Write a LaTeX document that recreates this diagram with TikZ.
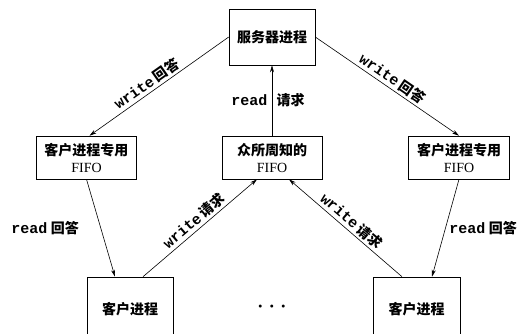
\documentclass[tikz,border=0pt]{standalone}
\usepackage{fontspec}
\setmainfont{Liberation Serif}
\setmonofont{Liberation Mono}
\newfontfamily\cjk{Noto Sans CJK SC}
\usetikzlibrary{arrows.meta}
\newcommand{\zh}[1]{{\cjk\bfseries #1}}
\newcommand{\fn}[1]{{\fontsize{15}{17}\selectfont\ttfamily\bfseries #1}}

\begin{document}
\begin{tikzpicture}[x=1pt, y=-1pt, >={Stealth[length=7pt,width=4pt]}, line width=0.6pt,
  box/.style={draw, align=center, inner sep=0pt, font=\fontsize{14}{17}\selectfont},
  lbl/.style={font=\fontsize{14}{16}\selectfont, inner sep=2.5pt}]
  \useasboundingbox (0,0) rectangle (523,333);
  \node[box, minimum width=86pt, minimum height=56pt] (S) at (272,37) {\zh{服务器进程}};
  \node[box, minimum width=100pt, minimum height=43pt] (F1) at (86.5,157.5) {\zh{客户进程专用}\\FIFO};
  \node[box, minimum width=100pt, minimum height=43pt] (F2) at (272,157.5) {\zh{众所周知的}\\FIFO};
  \node[box, minimum width=101pt, minimum height=43pt] (F3) at (459,157.5) {\zh{客户进程专用}\\FIFO};
  \node[box, minimum width=86pt, minimum height=64pt] (C1) at (130,309) {\zh{客户进程}};
  \node[box, minimum width=87pt, minimum height=64pt] (C2) at (416.5,309) {\zh{客户进程}};
  \node[font=\fontsize{18}{18}\selectfont] (D) at (272,309) {\textbf{·\hspace{5.5pt}·\hspace{5.5pt}·}};
  \draw[->] (S.west) -- ([xshift=3pt]F1.north) node[lbl, pos=0.55, sloped, above] {\fn{write}\hspace{3pt}\zh{回答}};
  \draw[->] (S.east) -- (F3.north) node[lbl, midway, sloped, above] {\fn{write}\hspace{3pt}\zh{回答}};
  \draw[->] (F2.north) -- (S.south) node[lbl, midway, xshift=-4pt] {\fn{read}\hspace{9pt}\zh{请求}};
  \draw[->] (F1.south) -- ([xshift=-15pt]C1.north) node[lbl, midway, left=19pt] {\fn{read}\ \zh{回答}};
  \draw[->] (F3.south) -- ([xshift=15.5pt]C2.north) node[lbl, midway, right=1pt] {\fn{read}\ \zh{回答}};
  \draw[->] ([xshift=13pt]C1.north) -- ([xshift=-15pt]F2.south) node[lbl, midway, sloped, above] {\fn{write}\hspace{3pt}\zh{请求}};
  \draw[->] ([xshift=-14.5pt]C2.north) -- ([xshift=17pt]F2.south) node[lbl, midway, sloped, above] {\fn{write}\hspace{3pt}\zh{请求}};
\end{tikzpicture}
\end{document}
